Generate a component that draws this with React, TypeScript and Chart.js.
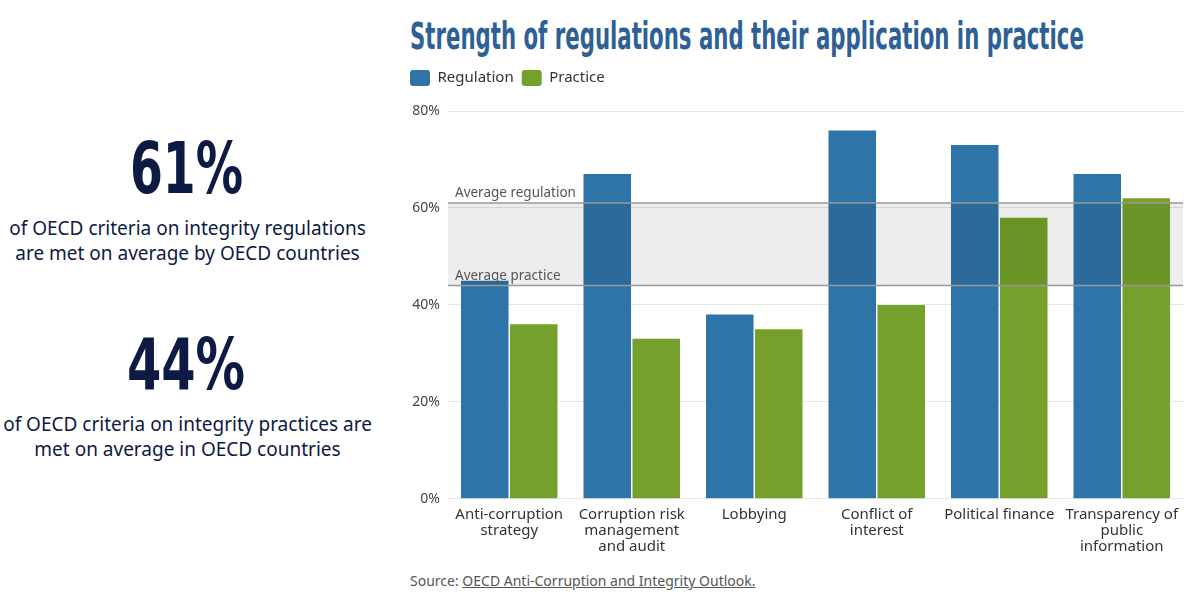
import React, { useEffect, useRef } from 'react';
import { Chart, registerables } from 'chart.js';

Chart.register(...registerables);

const categories = [
  ['Anti-corruption', 'strategy'],
  ['Corruption risk', 'management', 'and audit'],
  ['Lobbying'],
  ['Conflict of', 'interest'],
  ['Political finance'],
  ['Transparency of', 'public', 'information'],
];
const regulation = [45, 67, 38, 76, 73, 67];
const practice = [36, 33, 35, 40, 58, 62];
const avgRegulation = 61;
const avgPractice = 44;
const yTicks = [0, 20, 40, 60, 80];

const BLUE = '#2f74a8';
const GREEN = '#74a02b';
const BODY_FONT = '"Noto Sans", "Open Sans", sans-serif';
const NARROW = '"DejaVu Sans Condensed", "DejaVu Sans", sans-serif';

// shaded band between the two averages, drawn over the bars
const averagesPlugin = {
  id: 'averages',
  afterDatasetsDraw(chart: Chart) {
    const { ctx, chartArea } = chart;
    const y = chart.scales.y;
    const yReg = y.getPixelForValue(avgRegulation);
    const yPra = y.getPixelForValue(avgPractice);
    ctx.save();
    ctx.fillStyle = 'rgba(0,0,0,0.07)';
    ctx.fillRect(chartArea.left, yReg, chartArea.right - chartArea.left, yPra - yReg);
    ctx.strokeStyle = '#999';
    ctx.lineWidth = 1.5;
    [yReg, yPra].forEach((py) => {
      ctx.beginPath();
      ctx.moveTo(chartArea.left, py);
      ctx.lineTo(chartArea.right, py);
      ctx.stroke();
    });
    ctx.fillStyle = '#555';
    ctx.font = '13.5px ' + BODY_FONT;
    ctx.textBaseline = 'bottom';
    ctx.fillText('Average regulation', chartArea.left + 7, yReg - 3);
    ctx.fillText('Average practice', chartArea.left + 7, yPra - 3);
    ctx.restore();
  },
};

// extra space between legend and plot
const legendMargin = {
  id: 'legendMargin',
  beforeInit(chart: any) {
    const fit = chart.legend.fit;
    chart.legend.fit = function () {
      fit.bind(chart.legend)();
      this.height += 15;
    };
  },
};

function BarChart() {
  const chartRef = useRef<HTMLCanvasElement>(null);
  const chartInstance = useRef<Chart | null>(null);

  useEffect(() => {
    if (!chartRef.current) return;
    if (chartInstance.current) chartInstance.current.destroy();

    chartInstance.current = new Chart(chartRef.current, {
      type: 'bar',
      data: {
        labels: categories,
        datasets: [
          {
            label: 'Regulation',
            data: regulation,
            backgroundColor: BLUE,
            categoryPercentage: 0.8,
            barPercentage: 0.97,
          },
          {
            label: 'Practice',
            data: practice,
            backgroundColor: GREEN,
            categoryPercentage: 0.8,
            barPercentage: 0.97,
          },
        ],
      },
      options: {
        animation: false,
        responsive: true,
        maintainAspectRatio: false,
        layout: { padding: { left: 2, right: 7, top: 0, bottom: 7 } },
        plugins: {
          tooltip: { enabled: false },
          legend: {
            display: true,
            position: 'top',
            align: 'start',
            labels: {
              boxWidth: 20,
              boxHeight: 16,
              useBorderRadius: true,
              borderRadius: 3,
              color: '#333',
              padding: 8,
              font: { family: BODY_FONT, size: 15 },
            },
          },
        },
        scales: {
          x: {
            grid: { display: false },
            border: { display: false },
            ticks: {
              color: '#333',
              maxRotation: 0,
              autoSkip: false,
              padding: 0,
              font: { family: BODY_FONT, size: 15, lineHeight: 1.07 },
            },
          },
          y: {
            min: 0,
            max: 80,
            afterFit: (scale: any) => {
              scale.width = 46;
            },
            afterBuildTicks: (scale: any) => {
              scale.ticks = yTicks.map((v) => ({ value: v }));
            },
            border: { display: false },
            grid: { color: '#e6e6e6', drawTicks: false },
            ticks: {
              color: '#444',
              padding: 8,
              font: { family: BODY_FONT, size: 14 },
              callback: (value) => `${value}%`,
            },
          },
        },
      },
      plugins: [averagesPlugin, legendMargin],
    });

    return () => {
      if (chartInstance.current) {
        chartInstance.current.destroy();
        chartInstance.current = null;
      }
    };
  }, []);

  return <canvas ref={chartRef}></canvas>;
}

// squeeze a line of text to a target width (the original uses a condensed web font)
function Fit({ width, style, children }: { width: number; style: React.CSSProperties; children: string }) {
  const ref = useRef<HTMLSpanElement>(null);
  useEffect(() => {
    const el = ref.current;
    if (!el) return;
    el.style.transform = `scaleX(${width / el.offsetWidth})`;
  }, [width]);
  return (
    <span ref={ref} style={{ display: 'inline-block', whiteSpace: 'nowrap', transformOrigin: 'left top', ...style }}>
      {children}
    </span>
  );
}

function Stat({ value, lines, top, left, width }: { value: string; lines: string[]; top: number; left: number; width: number }) {
  return (
    <div style={{ position: 'absolute', left: 0, top, width: 375, textAlign: 'center' }}>
      <div style={{ position: 'relative', height: 80, textAlign: 'left' }}>
        <div style={{ position: 'absolute', left }}>
          <Fit width={width} style={{ fontFamily: NARROW, fontWeight: 'bold', fontSize: 72, lineHeight: '80px', color: '#0c1a44' }}>
            {value}
          </Fit>
        </div>
      </div>
      <div style={{ marginTop: 8 }}>
        {lines.map((l) => (
          <div key={l} style={{ fontFamily: BODY_FONT, fontSize: 19, lineHeight: '25px', color: '#0c1a44' }}>
            {l}
          </div>
        ))}
      </div>
    </div>
  );
}

export default function App() {
  useEffect(() => {
    document.body.style.margin = '0';
  }, []);

  return (
    <div style={{ position: 'relative', width: 1200, height: 600, background: '#fff', overflow: 'hidden' }}>
      <Stat
        value="61%"
        top={128}
        left={130}
        width={113}
        lines={['of OECD criteria on integrity regulations', 'are met on average by OECD countries']}
      />
      <Stat
        value="44%"
        top={324}
        left={127}
        width={118}
        lines={['of OECD criteria on integrity practices are', 'met on average in OECD countries']}
      />
      <div style={{ position: 'absolute', left: 410, top: 14 }}>
        <Fit width={674} style={{ fontFamily: NARROW, fontWeight: 'bold', fontSize: 37, lineHeight: '46px', color: '#2d6196' }}>
          Strength of regulations and their application in practice
        </Fit>
      </div>
      <div style={{ position: 'absolute', left: 400, top: 62, width: 790, height: 500 }}>
        <BarChart />
      </div>
      <div
        style={{
          position: 'absolute',
          left: 410,
          top: 571,
          fontFamily: BODY_FONT,
          fontSize: 14,
          color: '#555',
        }}
      >
        Source: <span style={{ textDecoration: 'underline' }}>OECD Anti-Corruption and Integrity Outlook.</span>
      </div>
    </div>
  );
}
